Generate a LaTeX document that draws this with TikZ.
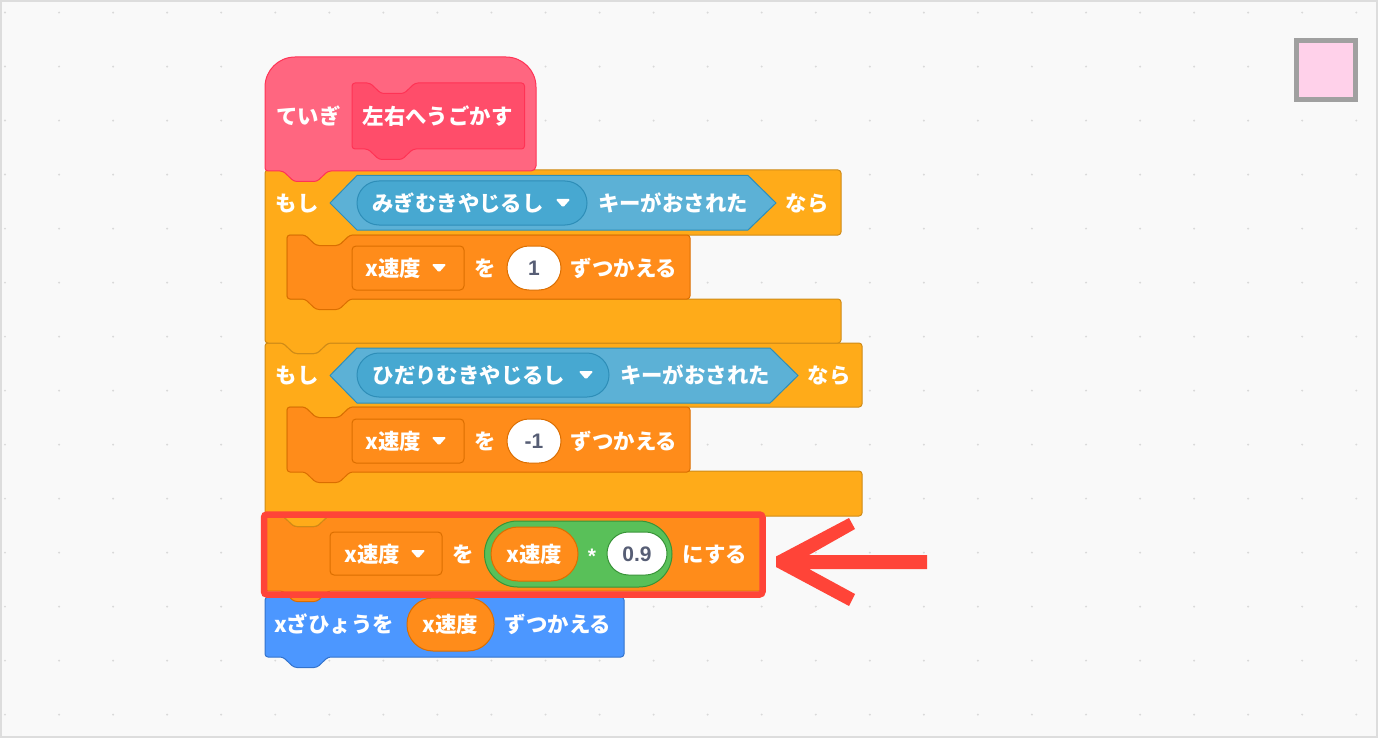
\documentclass[tikz,border=0pt]{standalone}
\usepackage{fontspec}
\setmainfont{Noto Sans CJK JP}
\newfontfamily\numfont{Liberation Sans}
\definecolor{bg}{HTML}{F9F9F9}
\definecolor{edgegray}{HTML}{DDDDDD}
\definecolor{dotgray}{HTML}{D9D9D9}
\definecolor{hatfill}{HTML}{FF6680}
\definecolor{hatline}{HTML}{FF3355}
\definecolor{hatin}{HTML}{FF4D6A}
\definecolor{ctlfill}{HTML}{FFAB19}
\definecolor{ctlline}{HTML}{CF8B17}
\definecolor{varfill}{HTML}{FF8C1A}
\definecolor{varline}{HTML}{DB6E00}
\definecolor{senfill}{HTML}{5CB1D6}
\definecolor{senline}{HTML}{2E8EB8}
\definecolor{senin}{HTML}{47A8D1}
\definecolor{motfill}{HTML}{4C97FF}
\definecolor{motline}{HTML}{3373CC}
\definecolor{opfill}{HTML}{59C059}
\definecolor{opline}{HTML}{389438}
\definecolor{numcol}{HTML}{575E75}
\definecolor{redmark}{HTML}{FF4438}
\definecolor{sqgray}{HTML}{A0A0A0}
\definecolor{sqpink}{HTML}{FFD1EA}
\def\tnotch{-- ++(18,0) -- ++(11,10.5) -- ++(23,0) -- ++(11,-10.5)}
\def\btab#1#2{-- (#1,#2) -- ++(-11,10.5) -- ++(-23,0) -- ++(-11,-10.5)}
\tikzset{
  x=1pt,y=-1pt,
  blk/.style={line width=1pt,rounded corners=3pt,line join=round},
  hatb/.style={blk,fill=hatfill,draw=hatline},
  hatinb/.style={blk,fill=hatin,draw=hatline},
  ctlb/.style={blk,fill=ctlfill,draw=ctlline},
  varb/.style={blk,fill=varfill,draw=varline},
  motb/.style={blk,fill=motfill,draw=motline},
  hexb/.style={line width=1pt,fill=senfill,draw=senline,line join=round},
  senpill/.style={line width=1pt,fill=senin,draw=senline},
  varpill/.style={line width=1pt,fill=varfill,draw=varline},
  whitepill/.style={line width=1pt,fill=white,draw=varline},
  lab/.style={text=white,font=\fontsize{21.4}{24}\selectfont\bfseries,anchor=base,inner sep=0pt,yshift=-8.9pt},
  numlab/.style={text=numcol,font=\fontsize{21}{24}\selectfont\numfont\bfseries,anchor=base,inner sep=0pt,yshift=-7.7pt},
}
\begin{document}
\begin{tikzpicture}
\useasboundingbox (0,0) rectangle (1378,738);
\fill[edgegray] (0,0) rectangle (1378,738);
\fill[bg] (2,2) rectangle (1376,736);
\foreach \i in {0,...,25}{\foreach \j in {0,...,13}{
  \fill[dotgray] ({5+54.05*\i},{12.6+54*\j}) circle (1.1);
}}
% pink sprite square
\draw[line width=5pt,draw=sqgray,fill=sqpink] (1296.5,40.5) rectangle (1355.5,99.5);
% blue block
\draw[motb] (265,620) -- (265,597) -- (624,597) -- (624,657) \btab{328}{657} -- (265,657) -- cycle;
% set block
\draw[varb] (265,550) -- (265,516) \tnotch -- (762,516) -- (762,591) \btab{328}{591} -- (265,591) -- cycle;
% second if
\draw[ctlb] (265,400) -- (265,343) \tnotch -- (862,343) -- (862,407) \btab{350}{407} -- (287,407) -- (287,471) -- (862,471) -- (862,516) \btab{328}{516} -- (265,516) -- cycle;
% first if
\draw[ctlb] (265,230) -- (265,170) \tnotch -- (841,170) -- (841,235) \btab{350}{235} -- (287,235) -- (287,299) -- (841,299) -- (841,343) \btab{328}{343} -- (265,343) -- cycle;
% hat
\draw[hatb] (265,130) [rounded corners=30pt] -- (265,57) -- (536,57) [rounded corners=5pt] -- (536,171) [rounded corners=3pt] \btab{328}{171} -- (265,171) -- cycle;
\draw[hatinb] (352,115) -- (352,83) \tnotch -- (524.5,83) -- (524.5,149) \btab{413}{149} -- (352,149) -- cycle;
\node[lab] (t1) at (308.5,116) {ていぎ};
\node[lab] (t2) at (437.5,116) {左右へうごかす};
% first if contents
\draw[hexb] (330,203) -- (357,175.5) -- (748,175.5) -- (776,203) -- (748,230) -- (357,230) -- cycle;
\draw[senpill,rounded corners=22pt] (357,181) rectangle (587,225);
\draw[varb] (287,260) -- (287,235) \tnotch -- (690,235) -- (690,299) \btab{350}{299} -- (287,299) -- cycle;
\draw[varpill,rounded corners=4pt] (352,246) rectangle (464,290);
\draw[whitepill,rounded corners=22pt] (507,246) rectangle (561,290);
\node[lab] (a1) at (297,203) {もし};
\node[lab] (a2) at (458,203) {みぎむきやじるし};
\node[lab] (a3) at (673,203) {キーがおされた};
\node[lab] (a4) at (807,203) {なら};
\node[lab] (a5) at (393,268) {x速度};
\node[lab] (a6) at (485,268) {を};
\node[numlab] (a7) at (534,268) {1};
\node[lab] (a8) at (624,268) {ずつかえる};
% second if contents
\draw[hexb] (330,375.5) -- (357,348) -- (770,348) -- (798,375.5) -- (770,403) -- (357,403) -- cycle;
\draw[senpill,rounded corners=22pt] (357,353) rectangle (609,397);
\draw[varb] (287,433) -- (287,407) \tnotch -- (690,407) -- (690,472) \btab{350}{472} -- (287,472) -- cycle;
\draw[varpill,rounded corners=4pt] (352,419) rectangle (464,463);
\draw[whitepill,rounded corners=22pt] (507,419) rectangle (561,463);
\node[lab] (b1) at (297,375) {もし};
\node[lab] (b2) at (469,375) {ひだりむきやじるし};
\node[lab] (b3) at (695,375) {キーがおされた};
\node[lab] (b4) at (829,375) {なら};
\node[lab] (b5) at (393,441) {x速度};
\node[lab] (b6) at (485,441) {を};
\node[numlab] (b7) at (534,441) {-1};
\node[lab] (b8) at (624,441) {ずつかえる};
% set block contents
\draw[varpill,rounded corners=4pt] (330,532) rectangle (442,575);
\draw[line width=1pt,fill=opfill,draw=opline,rounded corners=33pt] (484.5,521) rectangle (672,587);
\draw[varpill,rounded corners=27pt] (491,527) rectangle (578,581);
\draw[line width=1pt,fill=white,draw=opline,rounded corners=21.5pt] (607,532) rectangle (667,575);
\node[lab] (c1) at (372,554) {x速度};
\node[lab] (c2) at (463,554) {を};
\node[lab] (c3) at (534,554) {x速度};
\node[lab,font=\fontsize{21}{24}\selectfont\numfont\bfseries] (c4) at (592,555) {*};
\node[numlab] (c5) at (637,554) {0.9};
\node[lab] (c6) at (715,554) {にする};
% blue block contents
\draw[varpill,rounded corners=26pt] (407,598) rectangle (494,651);
\node[lab] (d1) at (334,624) {xざひょうを};
\node[lab] (d2) at (450,624) {x速度};
\node[lab] (d3) at (558,624) {ずつかえる};
% dropdown triangles
\foreach \tx/\ty in {563/203,586/375,439/268,439/441,418/554}{
  \fill[white,rounded corners=1.5pt,shift={(\tx,\ty)}] (-7.5,-4) -- (7.5,-4) -- (0,4.5) -- cycle;
}
% red highlight and arrow
\draw[redmark,line width=6.5pt,rounded corners=3pt] (264,514.5) rectangle (762.5,594.5);
\fill[redmark] (776,556.5) -- (849,518) -- (855,529) -- (809,555) -- (927,555) -- (927,569) -- (809,569) -- (855,594) -- (849,606) -- (776,567) -- cycle;
\end{tikzpicture}
\end{document}
